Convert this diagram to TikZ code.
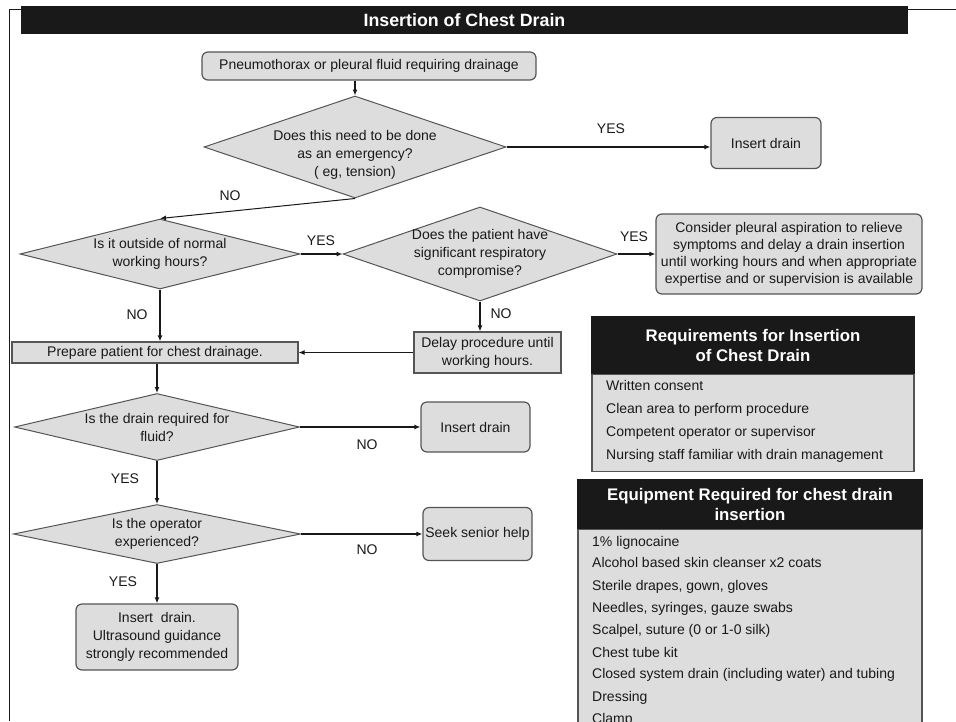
\documentclass[tikz,border=0pt]{standalone}
\usepackage{fontspec}
\setmainfont{Liberation Sans}
\usetikzlibrary{shapes.geometric,arrows.meta}

\definecolor{boxgray}{RGB}{221,221,221}
\definecolor{edgegray}{RGB}{85,85,85}
\definecolor{inkgray}{RGB}{25,25,25}

\begin{document}
\begin{tikzpicture}[x=1pt,y=-1pt,
	>={Latex[length=6pt,width=5pt]},
	every node/.style={font=\fontsize{14}{18}\selectfont, text=inkgray},
	decision/.style={diamond, draw=edgegray, fill=boxgray, line width=1pt, inner sep=-40pt, align=center},
	rbox/.style={rectangle, rounded corners=6pt, draw=edgegray, fill=boxgray, line width=1.2pt, align=center, inner sep=2pt},
	sbox/.style={rectangle, draw=edgegray, fill=boxgray, line width=1.2pt, align=center, inner sep=2pt},
	head/.style={rectangle, fill=inkgray, draw=inkgray, line width=1.2pt, text=white, align=center, font=\bfseries\fontsize{16.8}{20}\selectfont},
	item/.style={anchor=west, inner sep=0pt, text height=10.5pt, text depth=3pt},
	lbl/.style={inner sep=1pt},
	flow/.style={->, line width=1.4pt, draw=inkgray}
]
	\useasboundingbox (0,0) rectangle (956,721);
	\clip (0,0) rectangle (956,721);

	% Frame and title
	\draw[line width=1.5pt, inkgray] (9.5,721) -- (9.5,9.5) -- (956,9.5);
	\node[head, minimum width=885pt, minimum height=26pt, font=\bfseries\fontsize{17.8}{20}\selectfont] (title) at (464.5,20) {Insertion of Chest Drain};

	% Nodes
	\node[rbox, minimum width=334pt, minimum height=28pt] (start) at (369,66) {Pneumothorax or pleural fluid requiring drainage};
	\node[decision, minimum width=302pt, minimum height=102pt] (emerg) at (355,147) {};
	\node[align=center, inner sep=0pt] (emergtext) at (355,155) {Does this need to be done\\as an emergency?\\( eg, tension)};
	\node[rbox, minimum width=110pt, minimum height=51pt] (drainA) at (766,143) {Insert drain};
	\node[decision, minimum width=280pt, minimum height=70pt] (hours) at (160,254) {Is it outside of normal\\working hours?};
	\node[decision, minimum width=274pt, minimum height=94pt] (resp) at (480,254) {Does the patient have\\significant respiratory\\compromise?};
	\node[rbox, minimum width=266pt, minimum height=80pt, font=\fontsize{14}{17}\selectfont] (aspir) at (789,254) {Consider pleural aspiration to relieve\\symptoms and delay a drain insertion\\until working hours and when appropriate\\expertise and or supervision is available};
	\node[sbox, minimum width=147pt, minimum height=41pt] (delay) at (487.5,352.5) {Delay procedure until\\working hours.};
	\node[sbox, minimum width=286pt, minimum height=21pt] (prep) at (155,352.5) {Prepare patient for chest drainage.};
	\node[decision, minimum width=285pt, minimum height=67pt] (fluid) at (157,427) {Is the drain required for\\fluid?};
	\node[rbox, minimum width=109pt, minimum height=50pt] (drainB) at (475.5,427) {Insert drain};
	\node[decision, minimum width=287pt, minimum height=59pt] (oper) at (157,534) {Is the operator\\experienced?};
	\node[rbox, minimum width=109pt, minimum height=53pt] (senior) at (477.5,534) {Seek senior help};
	\node[rbox, minimum width=162pt, minimum height=66pt] (final) at (157,637) {Insert\ \ drain.\\Ultrasound guidance\\strongly recommended};

	% Labels
	\node[lbl] (yesA) at (611,129) {YES};
	\node[lbl] (noA) at (230,196) {NO};
	\node[lbl] (yesB) at (321,241) {YES};
	\node[lbl] (yesC) at (634,237) {YES};
	\node[lbl] (noB) at (137,315) {NO};
	\node[lbl] (noC) at (501,314) {NO};
	\node[lbl] (noD) at (367,445) {NO};
	\node[lbl] (yesD) at (125,479) {YES};
	\node[lbl] (noE) at (367,550) {NO};
	\node[lbl] (yesE) at (123,582) {YES};

	% Arrows
	\draw[flow] (start.south -| emerg.north) -- (emerg.north);
	\draw[flow] (emerg.east) -- (emerg.east -| drainA.west);
	\draw[flow, line width=1pt] (emerg.south) -- (hours.north);
	\draw[flow] (hours.east) -- (resp.west);
	\draw[flow] (resp.east) -- (aspir.west);
	\draw[flow] (hours.south) -- (hours.south |- prep.north);
	\draw[flow] (resp.south) -- (resp.south |- delay.north);
	\draw[flow, line width=0.9pt] (delay.west) -- (prep.east);
	\draw[flow] (prep.south -| fluid.north) -- (fluid.north);
	\draw[flow] (fluid.east) -- (drainB.west);
	\draw[flow] (fluid.south) -- (oper.north);
	\draw[flow] (oper.east) -- (senior.west);
	\draw[flow] (oper.south) -- (final.north);

	% Requirements
	\node[head, minimum width=322pt, minimum height=56pt] (reqhead) at (753,345) {Requirements for Insertion\\of Chest Drain};
	\node[sbox, minimum width=322pt, minimum height=97pt, anchor=north] (reqbody) at (reqhead.south) {};
	\node[item] (reqA) at (606,387) {Written consent};
	\node[item] (reqB) at (606,410) {Clean area to perform procedure};
	\node[item] (reqC) at (606,433) {Competent operator or supervisor};
	\node[item] (reqD) at (606,456) {Nursing staff familiar with drain management};

	% Equipment
	\node[head, minimum width=344pt, minimum height=48pt] (eqhead) at (750,504) {Equipment Required for chest drain\\insertion};
	\node[sbox, minimum width=344pt, minimum height=220pt, anchor=north] (eqbody) at (eqhead.south) {};
	\node[item] (eqA) at (592,543) {1\% lignocaine};
	\node[item] (eqB) at (592,564) {Alcohol based skin cleanser x2 coats};
	\node[item] (eqC) at (592,587) {Sterile drapes, gown, gloves};
	\node[item] (eqD) at (592,609) {Needles, syringes, gauze swabs};
	\node[item] (eqE) at (592,631) {Scalpel, suture (0 or 1-0 silk)};
	\node[item] (eqF) at (592,654) {Chest tube kit};
	\node[item] (eqG) at (592,675) {Closed system drain (including water) and tubing};
	\node[item] (eqH) at (592,698) {Dressing};
	\node[item] (eqI) at (592,720) {Clamp};
\end{tikzpicture}
\end{document}
